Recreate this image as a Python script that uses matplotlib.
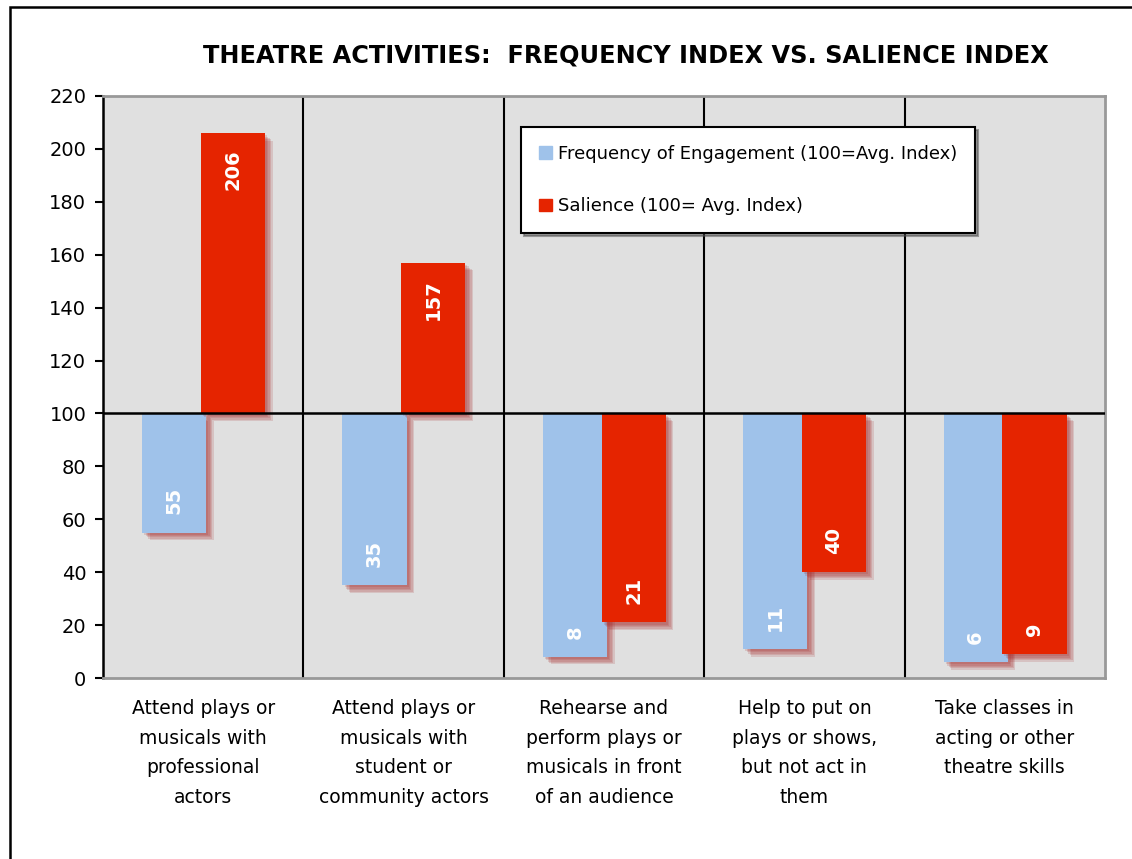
import matplotlib
matplotlib.use("Agg")
import matplotlib.pyplot as plt
import matplotlib.patheffects as pe
from matplotlib.patches import Rectangle, Patch

categories = [
    "Attend plays or\nmusicals with\nprofessional\nactors",
    "Attend plays or\nmusicals with\nstudent or\ncommunity actors",
    "Rehearse and\nperform plays or\nmusicals in front\nof an audience",
    "Help to put on\nplays or shows,\nbut not act in\nthem",
    "Take classes in\nacting or other\ntheatre skills",
]
frequency = [55, 35, 8, 11, 6]
salience = [206, 157, 21, 40, 9]
series_names = ["Frequency of Engagement (100=Avg. Index)", "Salience (100= Avg. Index)"]
yticks = [0, 20, 40, 60, 80, 100, 120, 140, 160, 180, 200, 220]
baseline = 100

BLUE = "#9fc2ea"
RED = "#e52400"

plt.rcParams['font.family'] = ['DejaVu Sans']

fig = plt.figure(figsize=(11.32, 8.59), dpi=100)
W, H = 1132, 859
ax = fig.add_axes([103 / W, 1 - 678 / H, (1105 - 103) / W, (678 - 96) / H])
ax.set_facecolor("#e0e0e0")

shadow = [pe.SimplePatchShadow(offset=(o, -o), shadow_rgbFace=(0.65, 0.15, 0.15), alpha=0.16)
          for o in (1.5, 2.5, 3.5, 4.5, 5.5)] + [pe.Normal()]

x = list(range(len(categories)))
w = 0.32
xb = [i - 0.145 for i in x]
xr = [i + 0.148 for i in x]
hb = [v - baseline for v in frequency]
hr = [v - baseline for v in salience]
bars_b = ax.bar(xb, hb, width=w, bottom=baseline, color=BLUE, zorder=3)
bars_r = ax.bar(xr, hr, width=w, bottom=baseline, color=RED, zorder=4)
for b in list(bars_b) + list(bars_r):
    b.set_path_effects(shadow)

def label(xs, vals):
    for xi, v in zip(xs, vals):
        if v >= baseline:
            ax.annotate(str(v), (xi, v), xytext=(0, -12), textcoords="offset points",
                        rotation=90, ha="center", va="top", color="white",
                        fontsize=14, fontweight="bold", zorder=6)
        else:
            ax.annotate(str(v), (xi, v), xytext=(0, 13), textcoords="offset points",
                        rotation=90, ha="center", va="bottom", color="white",
                        fontsize=14, fontweight="bold", zorder=6)

label(xb, frequency)
label(xr, salience)

for s in [0.5, 1.5, 2.5, 3.5]:
    ax.axvline(s, color="black", lw=1.5, zorder=2)
ax.axhline(baseline, color="black", lw=1.8, zorder=7)

ax.set_xlim(-0.5, len(categories) - 0.5)
ax.set_ylim(0, 220)
ax.set_yticks(yticks)
ax.set_yticklabels([str(t) for t in yticks], fontsize=14)
ax.tick_params(axis="y", direction="out", length=6, width=1.5, color="black", pad=6)
ax.set_xticks(x)
ax.set_xticklabels(categories, fontsize=13.5, linespacing=1.72, va="top")
ax.tick_params(axis="x", length=0, pad=15)

ax.spines["left"].set_color("black")
ax.spines["left"].set_linewidth(1.8)
for sp in ("top", "right", "bottom"):
    ax.spines[sp].set_color("#999999")
    ax.spines[sp].set_linewidth(2)

handles = [Patch(color=BLUE), Patch(color=RED)]
leg = fig.legend(handles, series_names, loc="upper left",
                 bbox_to_anchor=(521 / W, 1 - 127 / H), borderaxespad=0,
                 fontsize=13, frameon=True, fancybox=False, shadow=True,
                 edgecolor="black", handlelength=0.7, handleheight=0.7,
                 handletextpad=0.35, labelspacing=1.9, borderpad=1.0)
leg._legend_box.sep = 0
leg.get_frame().set_linewidth(1.5)
leg.set_zorder(10)
# widen frame slightly to the right like the reference
leg._legend_box.align = "left"

fig.text(626 / W, 1 - 55 / H, "THEATRE ACTIVITIES:  FREQUENCY INDEX VS. SALIENCE INDEX",
         ha="center", va="center", fontsize=17.3, fontweight="bold")

fig.patches.append(Rectangle((10 / W, -0.1), 1.2, 1 - 7 / H + 0.1, transform=fig.transFigure,
                             fill=False, edgecolor="black", lw=1.8, zorder=0))

fig.savefig("out.png", dpi=100)
